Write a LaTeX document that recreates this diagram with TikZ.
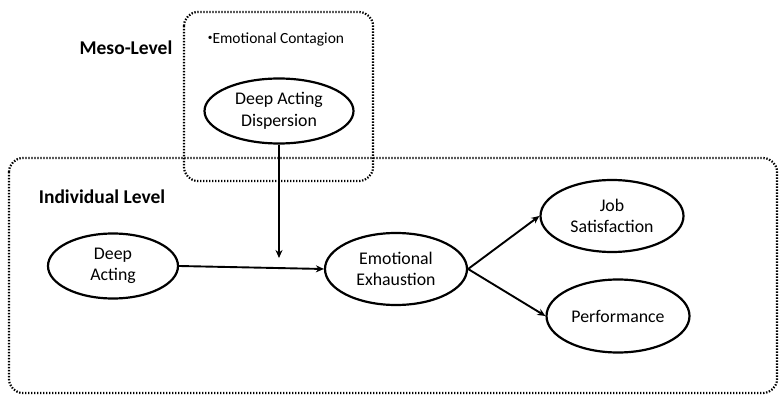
\documentclass[tikz,border=0pt]{standalone}
\usepackage{fontspec}
\setmainfont{Carlito}
\usetikzlibrary{shapes.geometric,arrows.meta}
\tikzset{
  levelbox/.style={draw, line width=2.2pt, dash pattern=on 1.4pt off 1.6pt, rounded corners=14pt},
  var/.style={draw, ellipse, line width=2.2pt, inner sep=0pt, align=center, font=\fontsize{17.8}{21.5}\selectfont},
  conn/.style={line width=1.9pt, -{Stealth[length=8pt,width=7pt]}},
  lvl/.style={font=\fontsize{19.5}{23}\bfseries\selectfont, inner sep=0pt}
}
\begin{document}
\begin{tikzpicture}[x=1pt,y=-1pt]
\useasboundingbox (0,0) rectangle (779,395);
\draw[levelbox] (9,158) rectangle (777,393);
\draw[levelbox] (184,12) rectangle (373,181);
\node[lvl] (meso) at (126,48) {Meso-Level};
\node[lvl] (indiv) at (102,197) {Individual Level};
\node[inner sep=0pt, font=\fontsize{15.5}{18}\selectfont] (contag) at (276,39) {\raisebox{0.15em}{\scalebox{0.6}{\textbullet}}Emotional Contagion};
\node[var, minimum width=149pt, minimum height=65pt] (dad) at (279,111) {Deep Acting\\Dispersion};
\node[var, minimum width=130pt, minimum height=65pt] (da) at (113,266) {Deep\\Acting};
\node[var, minimum width=142pt, minimum height=72pt] (ee) at (396,269) {Emotional\\Exhaustion};
\node[var, minimum width=143pt, minimum height=72pt] (js) at (612,216) {Job\\Satisfaction};
\node[var, minimum width=143pt, minimum height=73pt] (perf) at (618,316) {Performance};
\coordinate (mod) at (279,258);
\draw[conn] (da.east) -- (ee.west);
\draw[conn] (dad.south) -- (mod);
\draw[conn] (ee.east) -- (js.west);
\draw[conn] (ee.east) -- (perf.west);
\end{tikzpicture}
\end{document}
